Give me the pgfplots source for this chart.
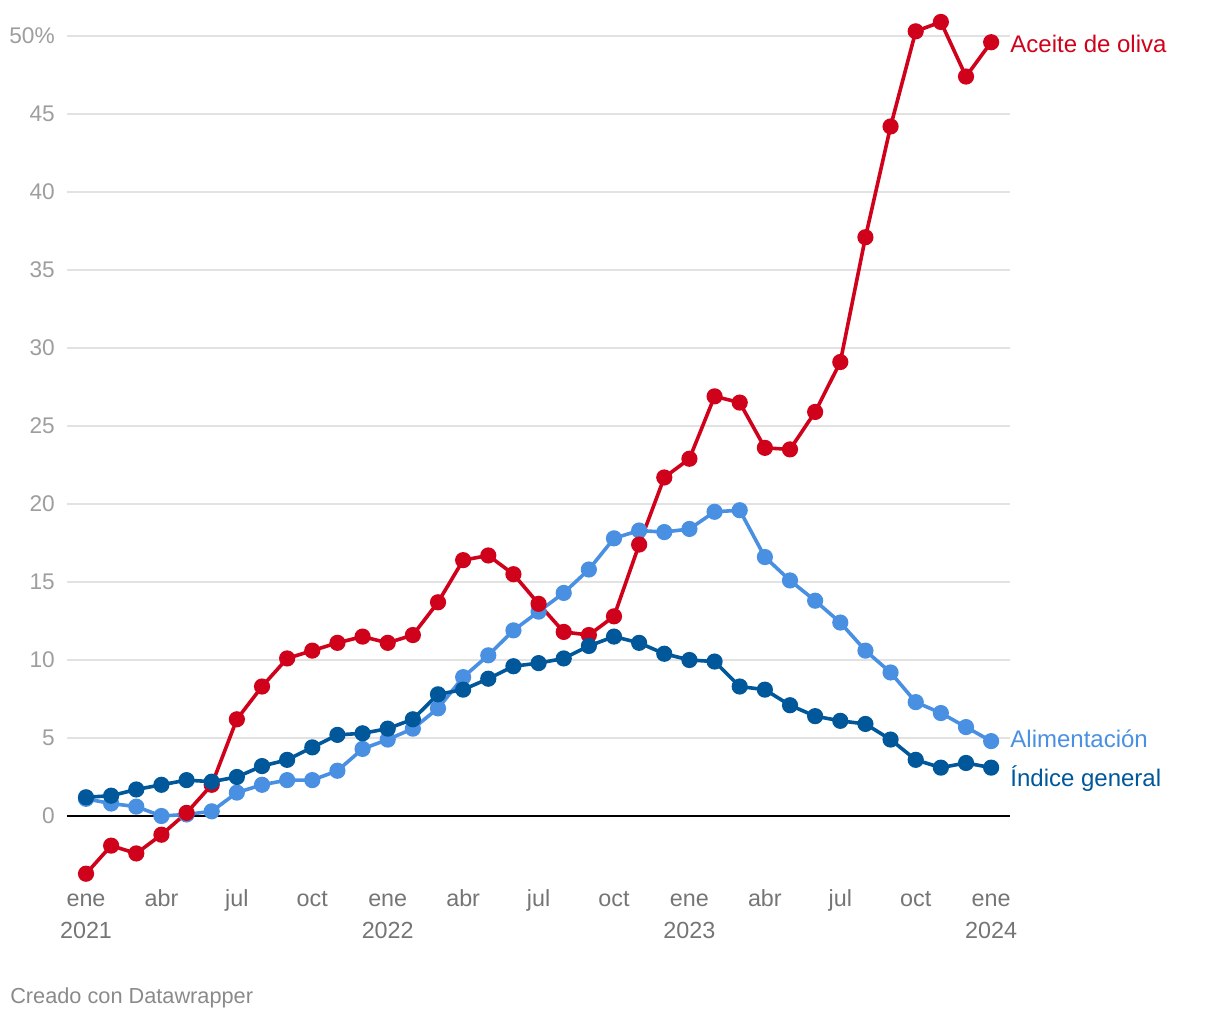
\documentclass[border=0pt]{standalone}
\usepackage{fontspec}
\setmainfont{Liberation Sans}
\usepackage{pgfplots}
\pgfplotsset{compat=1.18}
\definecolor{oliva}{HTML}{D0021B}
\definecolor{alim}{HTML}{4A90E2}
\definecolor{gen}{HTML}{00579A}
\definecolor{gridc}{HTML}{E2E2E2}
\definecolor{ylab}{HTML}{9E9E9E}
\definecolor{xlab}{HTML}{757575}
\definecolor{credit}{HTML}{8A8A8A}
\begin{document}
\begin{tikzpicture}[x=1pt,y=1pt]
\path (0,0) rectangle (915,765);
\begin{axis}[
  at={(50.25pt,100.5pt)}, anchor=south west,
  scale only axis, width=707.25pt, height=637.5pt,
  xmin=-0.756, xmax=36.75, ymin=-4.487, ymax=50,
  clip=false,
  axis line style={draw=none},
  major tick length=0pt,
  ytick={0,5,...,50},
  yticklabels={0,5,10,15,20,25,30,35,40,45,50\%},
  ymajorgrids,
  grid style={gridc, line width=1.2pt},
  yticklabel style={font=\fontsize{17}{20}\selectfont, text=ylab, anchor=east, inner sep=0pt, xshift=-9pt},
  xtick={0,3,...,36},
  xticklabels={{ene\\2021},{abr\\\mbox{}},{jul\\\mbox{}},{oct\\\mbox{}},{ene\\2022},{abr\\\mbox{}},{jul\\\mbox{}},{oct\\\mbox{}},{ene\\2023},{abr\\\mbox{}},{jul\\\mbox{}},{oct\\\mbox{}},{ene\\2024}},
  xticklabel style={align=center, font=\fontsize{17.5}{24.4}\selectfont, text=xlab, anchor=base, inner sep=0pt, yshift=-39.5pt},
]
\draw[black, line width=1.5pt] (axis cs:-0.756,0) -- (axis cs:36.75,0);
\addplot[alim, line width=2.7pt, mark=*, mark size=4.7pt, mark options={draw=none, fill=alim}] coordinates {
(0,1.1)(1,0.8)(2,0.6)(3,0.0)(4,0.1)(5,0.3)(6,1.5)(7,2.0)(8,2.3)(9,2.3)(10,2.9)(11,4.3)
(12,4.9)(13,5.6)(14,6.9)(15,8.9)(16,10.3)(17,11.9)(18,13.1)(19,14.3)(20,15.8)(21,17.8)(22,18.3)(23,18.2)
(24,18.4)(25,19.5)(26,19.6)(27,16.6)(28,15.1)(29,13.8)(30,12.4)(31,10.6)(32,9.2)(33,7.3)(34,6.6)(35,5.7)
(36,4.8)};
\addplot[oliva, line width=2.7pt, mark=*, mark size=4.7pt, mark options={draw=none, fill=oliva}] coordinates {
(0,-3.7)(1,-1.9)(2,-2.4)(3,-1.2)(4,0.2)(5,2.0)(6,6.2)(7,8.3)(8,10.1)(9,10.6)(10,11.1)(11,11.5)
(12,11.1)(13,11.6)(14,13.7)(15,16.4)(16,16.7)(17,15.5)(18,13.6)(19,11.8)(20,11.6)(21,12.8)(22,17.4)(23,21.7)
(24,22.9)(25,26.9)(26,26.5)(27,23.6)(28,23.5)(29,25.9)(30,29.1)(31,37.1)(32,44.2)(33,50.3)(34,50.9)(35,47.4)
(36,49.6)};
\addplot[gen, line width=2.7pt, mark=*, mark size=4.7pt, mark options={draw=none, fill=gen}] coordinates {
(0,1.2)(1,1.3)(2,1.7)(3,2.0)(4,2.3)(5,2.2)(6,2.5)(7,3.2)(8,3.6)(9,4.4)(10,5.2)(11,5.3)
(12,5.6)(13,6.2)(14,7.8)(15,8.1)(16,8.8)(17,9.6)(18,9.8)(19,10.1)(20,10.9)(21,11.5)(22,11.1)(23,10.4)
(24,10.0)(25,9.9)(26,8.3)(27,8.1)(28,7.1)(29,6.4)(30,6.1)(31,5.9)(32,4.9)(33,3.6)(34,3.1)(35,3.4)
(36,3.1)};
\node[anchor=base west, inner sep=0pt, text=oliva, font=\fontsize{18}{20}\selectfont, xshift=14.25pt] at (axis cs:36,48.91) {Aceite de oliva};
\node[anchor=base west, inner sep=0pt, text=alim, font=\fontsize{18}{20}\selectfont, xshift=14.25pt] at (axis cs:36,4.36) {Alimentación};
\node[anchor=base west, inner sep=0pt, text=gen, font=\fontsize{18}{20}\selectfont, xshift=14.25pt] at (axis cs:36,1.92) {Índice general};
\end{axis}
\node[anchor=base west, inner sep=0pt, text=credit, font=\fontsize{16.3}{18}\selectfont] at (7.5,12) {Creado con Datawrapper};
\end{tikzpicture}
\end{document}
